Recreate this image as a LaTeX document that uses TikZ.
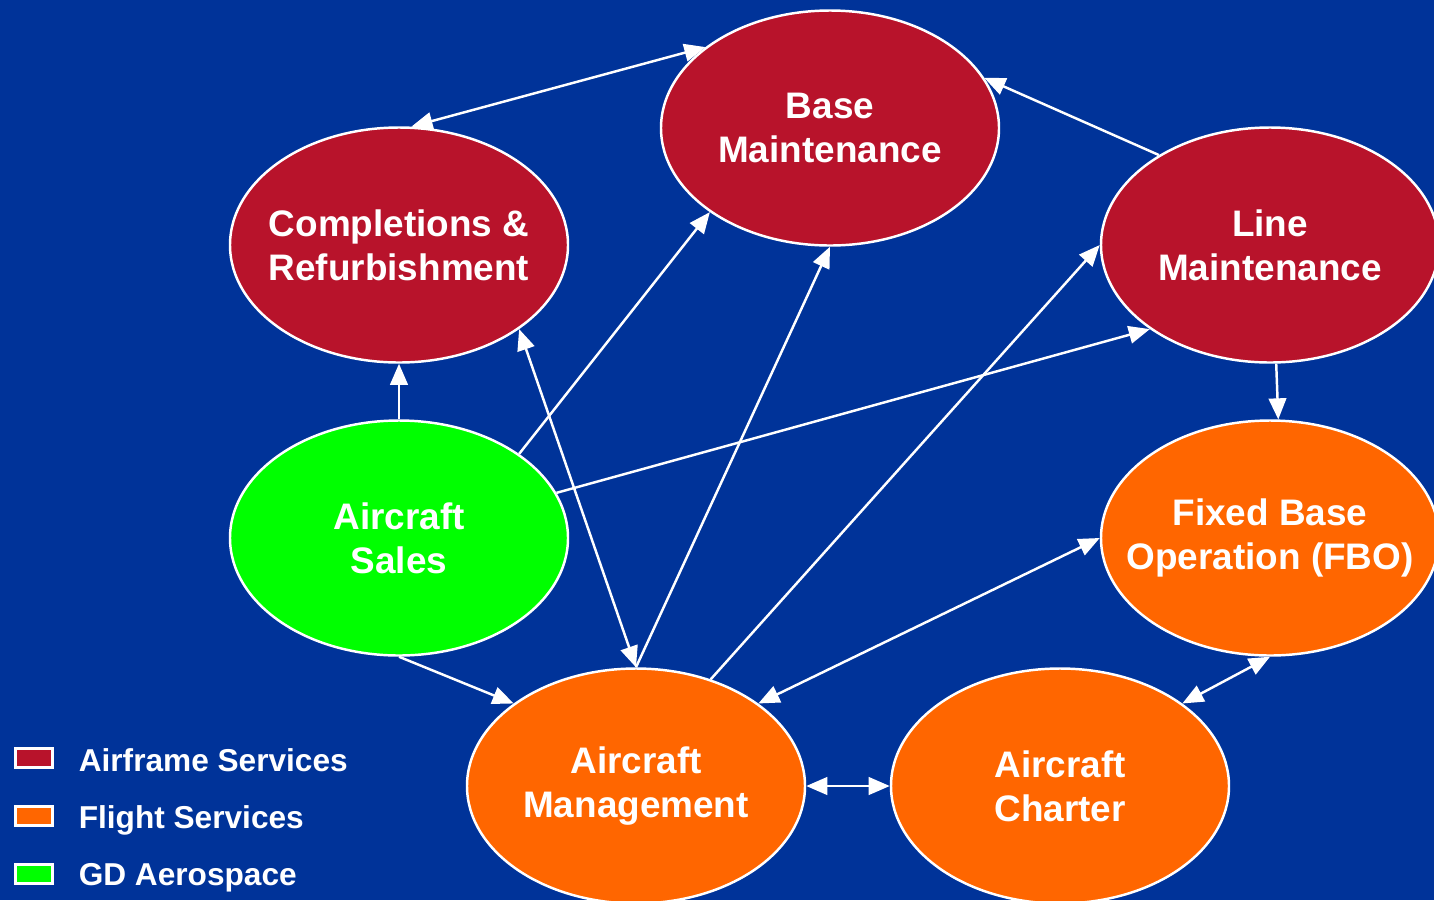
\documentclass[tikz,border=0pt]{standalone}
\usepackage{fontspec}
\setmainfont{Liberation Sans}
\usetikzlibrary{arrows.meta,shapes.geometric}

\definecolor{bgblue}{HTML}{003399}
\definecolor{airred}{HTML}{B8132B}
\definecolor{flightorange}{HTML}{FF6600}
\definecolor{gdgreen}{HTML}{00FF00}

\begin{document}
\begin{tikzpicture}[y=-1cm,>={Triangle[length=6pt,width=5pt]},line width=0.7pt,
  main node/.style={ellipse,draw=white,line width=0.7pt,minimum width=3.38cm,minimum height=2.35cm,
    inner sep=-0.35cm,text=white,align=center,font=\bfseries\fontsize{10.5}{12.6}\selectfont},
  air node/.style={main node,fill=airred},
  flight node/.style={main node,fill=flightorange},
  gd node/.style={main node,fill=gdgreen},
  link/.style={color=white},
  key box/.style={draw=white,line width=0.6pt,minimum width=0.37cm,minimum height=0.19cm,inner sep=0pt},
  key text/.style={text=white,inner sep=0pt,anchor=base west,font=\bfseries\fontsize{9}{10}\selectfont}]

 \fill[bgblue] (0,0) rectangle (14.34,9.00);
 \useasboundingbox (0,0) rectangle (14.34,9.00);

 \node[air node] (base) at (8.30,1.28) {Base\\ Maintenance};
 \node[air node] (compl) at (3.99,2.45) {Completions \&\\ Refurbishment};
 \node[air node] (line) at (12.70,2.45) {Line\\ Maintenance};
 \node[gd node] (sales) at (3.99,5.38) {Aircraft\\ Sales};
 \node[flight node] (fbo) at (12.70,5.38) {Fixed Base\\ Operation (FBO)};
 \node[flight node] (mgmt) at (6.36,7.86) {Aircraft\\ Management};
 \node[flight node] (charter) at (10.60,7.86) {Aircraft\\ Charter};

 % connections
 \path[link]
    (base.147)    edge [<->] (compl.84)
    (line.141)    edge [->] (base.18)
    (sales.90)    edge [->] (compl.270)
    (sales.35)    edge [->] (base.215)
    (sales.16)    edge [->] (line.215)
    (mgmt.90)     edge [->] (base.270)
    (mgmt.90)     edge [<->] (compl.-35)
    (mgmt.55)     edge [->] (line.180)
    (mgmt.34)     edge [<->] (fbo.180)
    (sales.270)   edge [->] (mgmt.146)
    (line.273)    edge [->] (fbo.86)
    (mgmt.0)      edge [<->] (charter.180)
    (charter.34)  edge [<->] (fbo.270);

 % legend
 \node[key box,fill=airred] (airkey) at (0.34,7.58) {};
 \node[key box,fill=flightorange] (flightkey) at (0.34,8.16) {};
 \node[key box,fill=gdgreen] (gdkey) at (0.34,8.74) {};
 \node[key text] (airlabel) at ([xshift=0.24cm,yshift=-0.13cm]airkey.east) {Airframe Services};
 \node[key text] (flightlabel) at ([xshift=0.24cm,yshift=-0.12cm]flightkey.east) {Flight Services};
 \node[key text] (gdlabel) at ([xshift=0.24cm,yshift=-0.11cm]gdkey.east) {GD Aerospace};

\end{tikzpicture}
\end{document}
